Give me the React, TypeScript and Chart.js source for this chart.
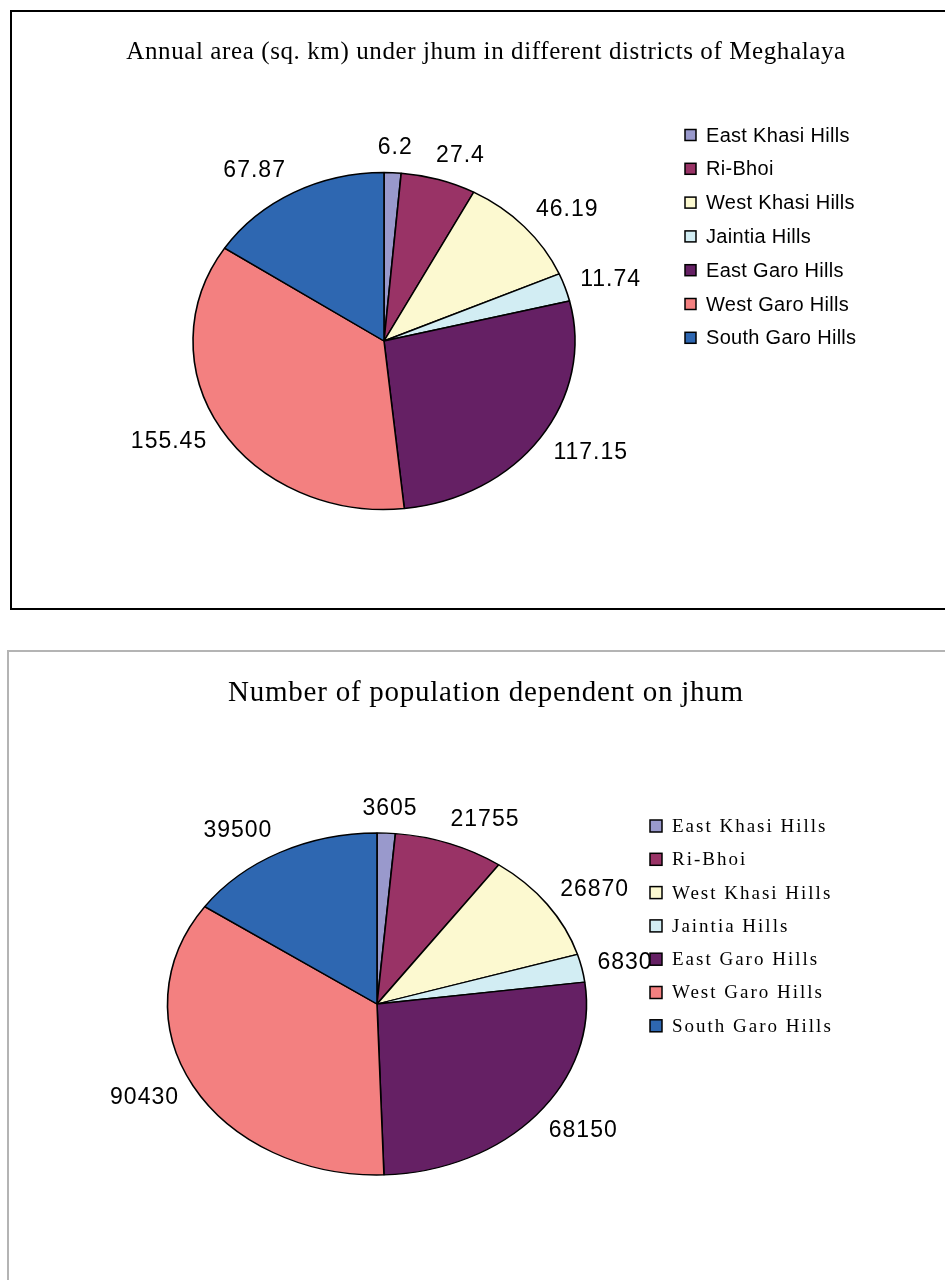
import React, { useEffect, useRef } from 'react';
import { Chart, registerables } from 'chart.js';

Chart.register(...registerables);

// ---------- data ----------
const districts = [
  'East Khasi Hills',
  'Ri-Bhoi',
  'West Khasi Hills',
  'Jaintia Hills',
  'East Garo Hills',
  'West Garo Hills',
  'South Garo Hills',
];
const areaValues = [6.2, 27.4, 46.19, 11.74, 117.15, 155.45, 67.87];
const populationValues = [3605, 21755, 26870, 6830, 68150, 90430, 39500];
const sliceColors = ['#9999CC', '#993366', '#FCF9D0', '#D2EDF3', '#652064', '#F38080', '#2E67B1'];
const areaTitle = 'Annual area (sq. km) under jhum in different districts of Meghalaya';
const populationTitle = 'Number of population dependent on jhum';

const W = 945;
const H = 640;

// ---------- plugins ----------
const ellipsePlugin = {
  id: 'ellipse',
  beforeDatasetsDraw(chart: any, _a: any, opts: any) {
    const arc = chart.getDatasetMeta(0).data[0];
    if (!arc) return;
    const ctx = chart.ctx;
    ctx.save();
    ctx.translate(arc.x, arc.y);
    ctx.scale(1, opts.ratio);
    ctx.translate(-arc.x, -arc.y);
  },
  afterDatasetsDraw(chart: any) {
    chart.ctx.restore();
  },
};

const decorPlugin = {
  id: 'decor',
  afterDraw(chart: any, _a: any, o: any) {
    const ctx = chart.ctx;
    const meta = chart.getDatasetMeta(0);
    const ds = chart.data.datasets[0];
    ctx.save();
    // title
    ctx.fillStyle = '#000';
    ctx.textAlign = 'center';
    ctx.textBaseline = 'middle';
    ctx.font = o.titleFont;
    (ctx as any).letterSpacing = o.titleSpacing;
    ctx.fillText(o.title, o.titleX, o.titleY);

    // value labels
    ctx.font = o.labelFont;
    (ctx as any).letterSpacing = o.labelSpacing;
    meta.data.forEach((arc: any, i: number) => {
      const mid = (arc.startAngle + arc.endAngle) / 2;
      const ux = Math.cos(mid);
      const uy = Math.sin(mid);
      const R = arc.outerRadius;
      const ax = arc.x + ux * (R + o.gap);
      const ay = arc.y + uy * (R * o.ratio + o.gap);
      const text = String(ds.data[i]);
      const hw = ctx.measureText(text).width / 2;
      const k = Math.max(-1, Math.min(1, 2.5 * ux));
      ctx.fillText(text, ax + hw * k, ay + uy * o.halfH);
    });

    // legend
    ctx.textAlign = 'left';
    ctx.font = o.legendFont;
    (ctx as any).letterSpacing = o.legendSpacing;
    chart.data.labels.forEach((lab: string, i: number) => {
      const y = o.legendTop + i * o.legendStep;
      const s = o.box;
      ctx.fillStyle = ds.backgroundColor[i];
      ctx.fillRect(o.boxX, y - s / 2, s, s);
      ctx.strokeStyle = '#000';
      ctx.lineWidth = 1.5;
      ctx.strokeRect(o.boxX, y - s / 2, s, s);
      ctx.fillStyle = '#000';
      ctx.fillText(lab, o.textX, y + 1);
    });
    ctx.restore();
  },
};

function PieCanvas({ values, cfg, top }: { values: number[]; cfg: any; top: number }) {
  const ref = useRef<HTMLCanvasElement>(null);
  useEffect(() => {
    const bw = 1.6;
    const side = 2 * cfg.rx + bw;
    const padding = {
      left: cfg.cx - side / 2,
      top: cfg.cy - side / 2,
      right: W - (cfg.cx + side / 2),
      bottom: H - (cfg.cy + side / 2),
    };
    const chart = new Chart(ref.current as HTMLCanvasElement, {
      type: 'pie',
      data: {
        labels: districts,
        datasets: [
          {
            data: values,
            backgroundColor: sliceColors,
            borderColor: '#000',
            borderWidth: bw,
          },
        ],
      },
      options: {
        responsive: false,
        animation: false,
        events: [],
        layout: { padding },
        plugins: {
          legend: { display: false },
          tooltip: { enabled: false },
          title: { display: false },
          ellipse: { ratio: cfg.ratio },
          decor: cfg.decor,
        } as any,
      },
      plugins: [ellipsePlugin, decorPlugin],
    });
    return () => chart.destroy();
  }, []);
  return (
    <canvas
      ref={ref}
      width={W}
      height={H}
      style={{ position: 'absolute', left: 0, top, width: W, height: H }}
    />
  );
}

const topCfg = {
  cx: 384,
  cy: 341,
  rx: 191,
  ratio: 168.5 / 191,
  decor: {
    title: areaTitle,
    titleFont: '25px "Liberation Serif", "Times New Roman", serif',
    titleSpacing: '0.6px',
    titleX: 486,
    titleY: 52,
    labelFont: '23px "Liberation Sans", Arial, sans-serif',
    labelSpacing: '1px',
    gap: 16,
    halfH: 9,
    ratio: 168.5 / 191,
    legendFont: '20px "Liberation Sans", Arial, sans-serif',
    legendSpacing: '0.3px',
    legendTop: 135,
    legendStep: 33.8,
    box: 11,
    boxX: 685,
    textX: 706,
  },
};

const bottomCfg = {
  cx: 377,
  cy: 364,
  rx: 209.5,
  ratio: 171 / 209.5,
  decor: {
    title: populationTitle,
    titleFont: '29px "Liberation Serif", "Times New Roman", serif',
    titleSpacing: '0.75px',
    titleX: 486,
    titleY: 53,
    labelFont: '23px "Liberation Sans", Arial, sans-serif',
    labelSpacing: '1px',
    gap: 16,
    halfH: 9,
    ratio: 171 / 209.5,
    legendFont: '19px "Liberation Serif", "Times New Roman", serif',
    legendSpacing: '2px',
    legendTop: 186,
    legendStep: 33.3,
    box: 12,
    boxX: 650,
    textX: 672,
  },
};

export default function App() {
  return (
    <div
      style={{
        position: 'absolute',
        left: 0,
        top: 0,
        width: 945,
        height: 1280,
        overflow: 'hidden',
        background: '#fff',
      }}
    >
      <div
        style={{
          position: 'absolute',
          left: 10,
          top: 10,
          width: 980,
          height: 600,
          boxSizing: 'border-box',
          border: '2px solid #000',
        }}
      />
      <div
        style={{
          position: 'absolute',
          left: 7,
          top: 650,
          width: 980,
          height: 700,
          boxSizing: 'border-box',
          border: '2px solid #b4b4b4',
        }}
      />
      <PieCanvas values={areaValues} cfg={topCfg} top={0} />
      <PieCanvas values={populationValues} cfg={bottomCfg} top={640} />
    </div>
  );
}
